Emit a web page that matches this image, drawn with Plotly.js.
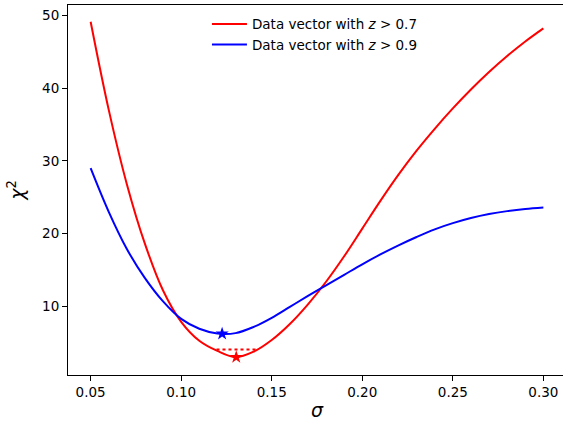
<!DOCTYPE html>
<html>
<head>
<meta charset="utf-8">
<script src="https://cdn.plot.ly/plotly-3.0.1.min.js"></script>
<style>
html,body{margin:0;padding:0;overflow:hidden;background:#fff;width:563px;height:421px;}
#chart{width:580px;height:421px;}
</style>
</head>
<body>
<div id="chart"></div>
<script>
// sigma grid
const sigma = [0.05,0.06,0.07,0.08,0.09,0.10,0.11,0.12,0.13,0.14,0.15,0.16,0.17,0.18,0.19,0.20,0.21,0.22,0.23,0.24,0.25,0.26,0.27,0.28,0.29,0.30];
// chi^2 for z > 0.7
const chi2_z07 = [49.1,37.0,26.8,18.6,12.2,7.9,5.3,3.9,3.05,3.8,5.4,7.6,10.3,13.4,16.9,20.7,24.5,28.1,31.4,34.4,37.2,39.8,42.2,44.4,46.4,48.2];
// chi^2 for z > 0.9
const chi2_z09 = [29.0,23.0,17.9,13.9,10.7,8.3,6.95,6.3,6.35,7.2,8.45,9.95,11.45,12.9,14.35,15.8,17.15,18.4,19.55,20.6,21.45,22.15,22.7,23.1,23.4,23.6];
// best-fit points
const best_z07 = {sigma: 0.1304, chi2: 3.05};
const best_z09 = {sigma: 0.1226, chi2: 6.26};
// Delta chi^2 = 1 interval for z > 0.7
const interval_sigma = [0.1195, 0.1425];
const interval_chi2 = 4.1;

const names = ['Data vector with <i>z</i> > 0.7', 'Data vector with <i>z</i> > 0.9'];
const xTicks = [0.05,0.10,0.15,0.20,0.25,0.30];
const yTicks = [10,20,30,40,50];

const traces = [
  {x: sigma, y: chi2_z07, mode:'lines', name: names[0], line:{color:'#ff0000', width:2, shape:'spline', smoothing:1}},
  {x: sigma, y: chi2_z09, mode:'lines', name: names[1], line:{color:'#0000ff', width:2, shape:'spline', smoothing:1}},
  {x: [best_z07.sigma], y: [best_z07.chi2], mode:'markers', showlegend:false, marker:{symbol:'star', size:10, color:'#ff0000'}},
  {x: [best_z09.sigma], y: [best_z09.chi2], mode:'markers', showlegend:false, marker:{symbol:'star', size:10, color:'#0000ff'}},
  {x: interval_sigma, y: [interval_chi2, interval_chi2], mode:'lines', showlegend:false, line:{color:'#ff0000', width:2, dash:'dot'}}
];

const font = {family:'DejaVu Sans', size:13.5, color:'#000'};
const layout = {
  width:580, height:421,
  margin:{l:68.4, r:14.4, t:4.7, b:45.5, pad:0},
  paper_bgcolor:'#fff', plot_bgcolor:'#fff',
  font: font,
  showlegend:true,
  legend:{x:0.279, y:0.99, xanchor:'left', yanchor:'top', itemwidth:35, bgcolor:'rgba(0,0,0,0)', borderwidth:0, font:{family:'DejaVu Sans', size:13.5, color:'#000'}},
  xaxis:{
    range:[0.0375,0.3125], tickvals:xTicks, ticktext:xTicks.map(v=>v.toFixed(2)),
    showgrid:false, zeroline:false, showline:true, linecolor:'#000', linewidth:1, mirror:true,
    ticks:'outside', ticklen:5, tickwidth:1, tickcolor:'#000', automargin:false,
    title:{text:'<i>σ</i>', font:{family:'DejaVu Sans', size:19, color:'#000'}, standoff:8}
  },
  yaxis:{
    range:[0.6,51.4], tickvals:yTicks, ticktext:yTicks.map(String),
    showgrid:false, zeroline:false, showline:true, linecolor:'#000', linewidth:1, mirror:true,
    ticks:'outside', ticklen:5, tickwidth:1, tickcolor:'#000', automargin:false,
    title:{text:'<i>χ</i><sup>2</sup>', font:{family:'DejaVu Sans', size:19, color:'#000'}, standoff:12}
  }
};
Plotly.newPlot('chart', traces, layout, {displayModeBar:false, staticPlot:true});
</script>
</body>
</html>
